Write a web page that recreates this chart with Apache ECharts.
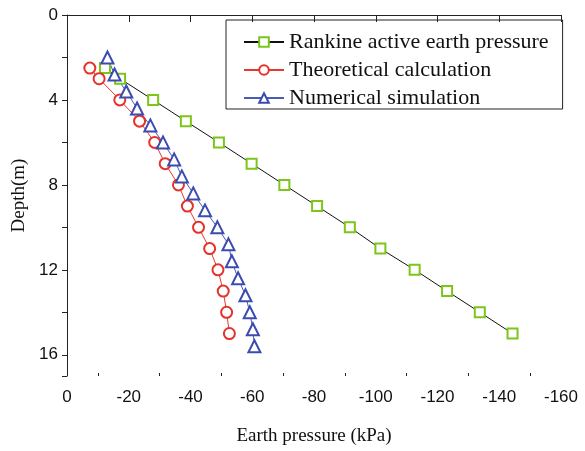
<!DOCTYPE html>
<html>
  <head>
    <meta charset="utf-8">
    <title>Earth pressure vs depth</title>
  </head>
  <style media="screen">
    html,body,#chart {
      margin:0;
      padding: 0;
      width: 585px;
      height: 451px;
      background: #fff;
    }
  </style>
  <body>
    <div id="chart"></div>

    <script src="https://cdn.jsdelivr.net/npm/echarts@6/dist/echarts.min.js"></script>

    <script type="text/javascript">
      // depth (m) and earth pressure (kPa)
      var rankineDepth = [2.5, 3, 4, 5, 6, 7, 8, 9, 10, 11, 12, 13, 14, 15]
      var rankinePressure = [-12.3, -17.2, -27.9, -38.5, -49.2, -59.8, -70.4, -81.0, -91.6, -101.5, -112.6, -123.1, -133.7, -144.3]

      var theoryDepth = [2.5, 3, 4, 5, 6, 7, 8, 9, 10, 11, 12, 13, 14, 15]
      var theoryPressure = [-7.4, -10.4, -17.1, -23.5, -28.4, -31.8, -36.1, -39.0, -42.6, -46.2, -48.9, -50.6, -51.7, -52.6]

      var numDepth = [2.0, 2.8, 3.6, 4.4, 5.2, 6.0, 6.8, 7.6, 8.4, 9.2, 10.0, 10.8, 11.6, 12.4, 13.2, 14.0, 14.8, 15.6]
      var numPressure = [-13.1, -15.4, -19.2, -22.7, -27.0, -31.1, -34.7, -37.2, -40.9, -44.7, -48.7, -52.3, -53.4, -55.4, -57.8, -59.2, -60.2, -60.7]

      var seriesNames = ['Rankine active earth pressure', 'Theoretical calculation', 'Numerical simulation']

      function pairs(xs, ys) {
        return xs.map(function (x, i) { return [x, ys[i]] })
      }

      var axisColor = '#222'

      var chart = echarts.init(document.getElementById('chart'), null, {renderer: 'canvas'})
      chart.setOption({
        animation: false,
        backgroundColor: '#fff',
        grid: {left: 67, right: 24, top: 15, bottom: 75},
        legend: {
          orient: 'vertical',
          left: 226,
          top: 20,
          padding: [11, 14, 0, 17],
          itemGap: 6,
          itemWidth: 40,
          itemHeight: 12,
          borderColor: axisColor,
          borderWidth: 1,
          data: seriesNames,
          textStyle: {fontFamily: 'Liberation Serif', fontSize: 22, color: '#111'}
        },
        xAxis: [{
          type: 'value',
          inverse: true,
          min: -160,
          max: 0,
          interval: 20,
          name: 'Earth pressure (kPa)',
          nameLocation: 'middle',
          nameGap: 51,
          nameTextStyle: {fontFamily: 'Liberation Serif', fontSize: 19, color: '#111'},
          axisLine: {lineStyle: {color: axisColor, width: 1}},
          axisTick: {length: 7, lineStyle: {color: axisColor}},
          axisLabel: {margin: 13, fontFamily: 'Liberation Sans', fontSize: 17, color: '#111'},
          splitLine: {show: false}
        }, {
          // only here to draw the short inward minor ticks
          type: 'value',
          position: 'bottom',
          inverse: true,
          min: -160,
          max: 0,
          interval: 20,
          axisLine: {show: false},
          axisTick: {show: true, inside: true, length: 0},
          minorTick: {show: true, splitNumber: 2, length: 3, lineStyle: {color: axisColor}},
          axisLabel: {show: false},
          splitLine: {show: false}
        }],
        yAxis: {
          type: 'value',
          inverse: true,
          min: 0,
          max: 17,
          interval: 2,
          name: 'Depth(m)',
          nameLocation: 'middle',
          nameGap: 36,
          nameTextStyle: {fontFamily: 'Liberation Serif', fontSize: 19, color: '#111'},
          axisLine: {lineStyle: {color: axisColor, width: 1}},
          axisTick: {length: 5, lineStyle: {color: axisColor}},
          axisLabel: {
            margin: 9,
            fontFamily: 'Liberation Sans',
            fontSize: 17,
            color: '#111',
            formatter: function (v) { return v % 4 === 0 ? String(v) : '' }
          },
          splitLine: {show: false}
        },
        series: [{
          name: seriesNames[0],
          type: 'line',
          data: pairs(rankinePressure, rankineDepth),
          symbol: 'emptyRect',
          symbolSize: 10,
          lineStyle: {color: '#111', width: 1},
          itemStyle: {color: '#7cc61a', borderWidth: 2}
        }, {
          name: seriesNames[1],
          type: 'line',
          data: pairs(theoryPressure, theoryDepth),
          symbol: 'emptyCircle',
          symbolSize: 11,
          lineStyle: {color: '#e8392e', width: 1},
          itemStyle: {color: '#e5322a', borderWidth: 1.5}
        }, {
          name: seriesNames[2],
          type: 'line',
          data: pairs(numPressure, numDepth),
          symbol: 'emptyTriangle',
          symbolSize: 12,
          lineStyle: {color: '#4a5ab8', width: 1},
          itemStyle: {color: '#3b4bb0', borderWidth: 1.5}
        }]
      })
    </script>
  </body>
</html>
